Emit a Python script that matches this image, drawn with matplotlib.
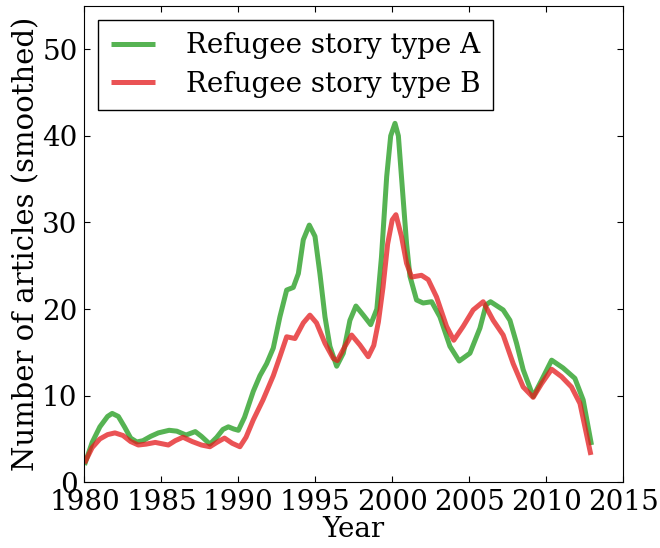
import matplotlib
matplotlib.use("Agg")
import matplotlib.pyplot as plt

# values
years_a = [1980.0, 1980.5, 1981.0, 1981.5, 1981.8, 1982.2, 1982.6, 1983.0, 1983.4, 1983.8,
           1984.3, 1984.8, 1985.5, 1986.0, 1986.6, 1987.2, 1987.6, 1988.15, 1988.6, 1989.0,
           1989.35, 1989.7, 1990.0, 1990.4, 1990.97, 1991.4, 1991.84, 1992.27, 1992.7, 1993.14,
           1993.57, 1993.9, 1994.22, 1994.61, 1994.98, 1995.3, 1995.63, 1995.95, 1996.39, 1996.82,
           1997.25, 1997.64, 1998.12, 1998.6, 1999.0, 1999.3, 1999.64, 1999.9, 2000.18, 2000.4,
           2000.6, 2000.93, 2001.15, 2001.58, 2002.01, 2002.56, 2003.1, 2003.75, 2004.35, 2005.05,
           2005.7, 2006.1, 2006.39, 2007.21, 2007.65, 2008.08, 2008.51, 2009.16, 2009.71, 2010.36,
           2011.1, 2011.87, 2012.41, 2012.95]
story_a = [2.0, 4.6, 6.4, 7.6, 7.95, 7.6, 6.4, 5.1, 4.65, 4.8,
           5.3, 5.7, 6.0, 5.9, 5.45, 5.85, 5.3, 4.4, 5.2, 6.1,
           6.4, 6.15, 6.0, 7.5, 10.5, 12.3, 13.7, 15.5, 19.1, 22.2,
           22.5, 24.1, 28.0, 29.7, 28.4, 24.1, 19.1, 15.7, 13.4, 14.9,
           18.7, 20.35, 19.3, 18.2, 20.0, 26.0, 35.3, 40.0, 41.45, 40.0,
           35.3, 27.6, 23.8, 21.05, 20.7, 20.85, 19.1, 15.7, 14.0, 14.9,
           17.8, 20.5, 20.85, 19.9, 18.7, 16.05, 13.0, 9.9, 11.8, 14.1,
           13.2, 12.0, 9.5, 4.3]

years_b = [1980.0, 1980.5, 1981.0, 1981.5, 1981.98, 1982.5, 1983.0, 1983.5, 1984.0, 1984.6,
           1985.45, 1985.9, 1986.4, 1987.0, 1987.6, 1988.15, 1988.6, 1989.1, 1989.6, 1990.1,
           1990.5, 1990.97, 1991.6, 1992.27, 1992.7, 1993.14, 1993.68, 1994.22, 1994.65, 1995.08,
           1995.63, 1996.17, 1996.43, 1996.93, 1997.36, 1997.9, 1998.44, 1998.8, 1999.1, 1999.4,
           1999.7, 2000.0, 2000.24, 2000.6, 2000.93, 2001.26, 2001.9, 2002.34, 2002.88, 2003.53,
           2004.0, 2004.61, 2005.26, 2005.91, 2006.56, 2007.21, 2007.86, 2008.51, 2009.16, 2009.71,
           2010.36, 2011.0, 2011.65, 2012.2, 2012.91]
story_b = [2.2, 4.0, 5.0, 5.5, 5.7, 5.4, 4.7, 4.3, 4.4, 4.6,
           4.3, 4.8, 5.2, 4.7, 4.3, 4.1, 4.6, 5.1, 4.5, 4.1,
           5.2, 7.2, 9.5, 12.3, 14.5, 16.8, 16.6, 18.4, 19.3, 18.4,
           16.05, 14.3, 14.05, 15.7, 17.0, 15.85, 14.5, 15.8, 18.5, 22.5,
           27.5, 30.3, 30.9, 28.4, 25.3, 23.7, 23.9, 23.4, 21.4, 18.0,
           16.4, 18.0, 19.9, 20.85, 18.7, 17.0, 13.7, 11.0, 9.8, 11.4,
           13.05, 12.2, 11.0, 9.1, 3.15]

labels = ["Refugee story type A", "Refugee story type B"]

plt.rcParams["font.family"] = "DejaVu Serif"
plt.rcParams["font.size"] = 20
plt.rcParams["xtick.direction"] = "in"
plt.rcParams["ytick.direction"] = "in"
plt.rcParams["xtick.top"] = True
plt.rcParams["ytick.right"] = True
plt.rcParams["xtick.major.size"] = 4
plt.rcParams["ytick.major.size"] = 4

fig = plt.figure(figsize=(6.6, 5.48), dpi=100)
ax = fig.add_axes([0.128, 0.12, 0.816, 0.869])

ax.plot(years_a, story_a, color="#4daf4a", lw=3.6, alpha=0.95,
        solid_joinstyle="round", solid_capstyle="butt", label=labels[0])
ax.plot(years_b, story_b, color="#e41a1c", lw=3.6, alpha=0.75,
        solid_joinstyle="round", solid_capstyle="butt", label=labels[1])

ax.set_xlim(1980, 2015)
ax.set_ylim(0, 55)
ax.set_xticks(range(1980, 2016, 5))
ax.set_yticks(range(0, 51, 10))
ax.set_xlabel("Year", labelpad=0)
ax.set_ylabel("Number of articles (smoothed)", fontsize=21, labelpad=1)
ax.tick_params(pad=5)

leg = ax.legend(loc="upper left", fancybox=False, handlelength=1.6,
                handletextpad=1.1, borderaxespad=0.5, borderpad=0.45,
                labelspacing=0.4)
leg.get_frame().set_edgecolor("black")
leg.get_frame().set_alpha(1)

fig.savefig("out.png", dpi=100, facecolor="white")
